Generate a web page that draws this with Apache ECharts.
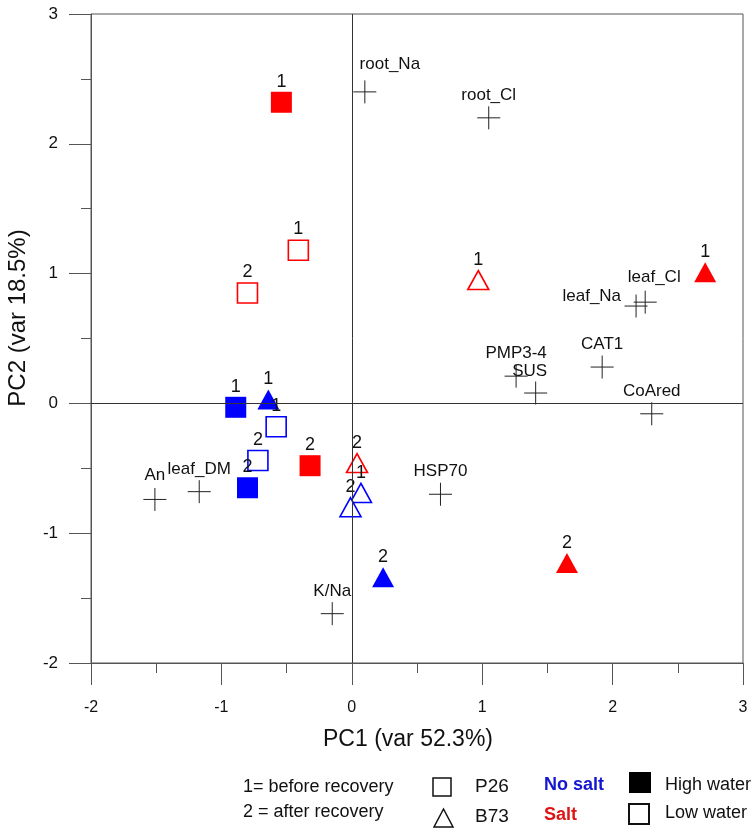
<!DOCTYPE html>
<html><head><meta charset="utf-8">
<script src="https://cdn.jsdelivr.net/npm/echarts@6/dist/echarts.min.js"></script>
<style>html,body{margin:0;padding:0;background:#fff}#c{width:756px;height:832px}</style>
</head><body><div id="c"></div>
<script>
// ---- data (index 0 = before recovery "1", index 1 = after recovery "2") ----
const timeLabels = ['1', '2'];
// P26 (squares)
const p26SaltHighX = [-0.54, -0.32], p26SaltHighY = [2.32, -0.48];
const p26SaltLowX = [-0.41, -0.80], p26SaltLowY = [1.18, 0.85];
const p26NoSaltHighX = [-0.89, -0.80], p26NoSaltHighY = [-0.03, -0.65];
const p26NoSaltLowX = [-0.58, -0.72], p26NoSaltLowY = [-0.18, -0.44];
// B73 (triangles)
const b73SaltHighX = [2.71, 1.65], b73SaltHighY = [1.01, -1.23];
const b73SaltLowX = [0.97, 0.04], b73SaltLowY = [0.95, -0.46];
const b73NoSaltHighX = [-0.64, 0.24], b73NoSaltHighY = [0.03, -1.34];
const b73NoSaltLowX = [0.07, -0.01], b73NoSaltLowY = [-0.69, -0.80];
// variable loadings
const varNames = ['root_Na', 'root_Cl', 'leaf_Na', 'leaf_Cl', 'CAT1', 'PMP3-4', 'SUS', 'CoAred', 'HSP70', 'K/Na', 'An', 'leaf_DM'];
const varX = [0.10, 1.05, 2.18, 2.25, 1.92, 1.26, 1.41, 2.30, 0.68, -0.15, -1.51, -1.17];
const varY = [2.40, 2.20, 0.75, 0.78, 0.28, 0.21, 0.08, -0.08, -0.70, -1.62, -0.74, -0.68];
// axis ticks
const xTicks = [-2, -1, 0, 1, 2, 3];
const yTicks = [-2, -1, 0, 1, 2, 3];
const xTitle = 'PC1 (var 52.3%)';
const yTitle = 'PC2 (var 18.5%)';

// ---- styling ----
const FONT = '"Liberation Sans", Arial, sans-serif';
const RED = '#ff0000', BLUE = '#0000ff';
const AX = '#555';
const varLabelStyle = {
  'root_Na': { offset: [25, -5] },
  'leaf_Na': { position: 'left', distance: 1, offset: [0, -10] },
  'leaf_Cl': { offset: [9, -2] },
  'SUS': { offset: [-6, 1] },
  'An': { offset: [0, -2] }
};

function pts(xs, ys) {
  return xs.map((x, i) => ({ name: timeLabels[i], value: [x, ys[i]] }));
}
const numLabel = { show: true, position: 'top', distance: 1, formatter: '{b}', fontSize: 18, color: '#111', fontFamily: FONT };

function grp(xs, ys, shape, color, filled) {
  const isRect = shape === 'rect';
  return {
    type: 'scatter', z: 3,
    symbol: shape,
    symbolSize: isRect ? (filled ? 21 : 20) : (filled ? [22, 20] : [21, 19]),
    itemStyle: filled ? { color: color, opacity: 1 } : { color: '#fff', borderColor: color, borderWidth: 1.6, opacity: 1 },
    label: numLabel,
    data: pts(xs, ys)
  };
}

const varData = varNames.map((n, i) => {
  const d = { name: n, value: [varX[i], varY[i]] };
  if (varLabelStyle[n]) d.label = varLabelStyle[n];
  return d;
});

const chart = echarts.init(document.getElementById('c'), null, { renderer: 'canvas' });
const axisCommon = {
  type: 'value', min: -2, max: 3, interval: 1,
  axisLine: { show: true, onZero: false, lineStyle: { color: AX, width: 1 } },
  axisTick: { show: true, length: 22, lineStyle: { color: AX, width: 1 } },
  minorTick: { show: true, splitNumber: 2, length: 10, lineStyle: { color: AX, width: 1 } },
  splitLine: { show: false }
};
chart.setOption({
  animation: false,
  backgroundColor: '#fff',
  grid: { left: 91, right: 13, top: 14, bottom: 169, show: true, borderColor: '#555', borderWidth: 1 },
  xAxis: Object.assign({}, axisCommon, {
    axisLabel: { margin: 37, fontSize: 16, color: '#111', fontFamily: FONT,
      formatter: v => xTicks.includes(v) ? String(v) : '' }
  }),
  yAxis: Object.assign({}, axisCommon, {
    axisLabel: { margin: 33, fontSize: 17, color: '#111', fontFamily: FONT,
      formatter: v => yTicks.includes(v) ? String(v) : '' }
  }),
  series: [
    { type: 'scatter', data: [], z: 1,
      markLine: { silent: true, symbol: 'none', animation: false, label: { show: false },
        lineStyle: { color: '#333', width: 1, type: 'solid', opacity: 1 },
        data: [{ xAxis: 0 }, { yAxis: 0 }] } },
    { type: 'scatter', z: 2,
      symbol: 'path://M0,10L20,10M10,0L10,20', symbolSize: 23,
      itemStyle: { color: 'none', borderColor: '#222', borderWidth: 1, opacity: 1 },
      label: { show: true, position: 'top', distance: 0, formatter: '{b}', fontSize: 17, color: '#111', fontFamily: FONT },
      data: varData },
    grp(p26SaltHighX, p26SaltHighY, 'rect', RED, true),
    grp(p26SaltLowX, p26SaltLowY, 'rect', RED, false),
    grp(p26NoSaltHighX, p26NoSaltHighY, 'rect', BLUE, true),
    grp(p26NoSaltLowX, p26NoSaltLowY, 'rect', BLUE, false),
    grp(b73SaltHighX, b73SaltHighY, 'triangle', RED, true),
    grp(b73SaltLowX, b73SaltLowY, 'triangle', RED, false),
    grp(b73NoSaltHighX, b73NoSaltHighY, 'triangle', BLUE, true),
    grp(b73NoSaltLowX, b73NoSaltLowY, 'triangle', BLUE, false)
  ],
  graphic: [
    { type: 'text', x: 408, y: 740, style: { text: xTitle, fontSize: 23, fontFamily: FONT, fill: '#111', align: 'center', verticalAlign: 'middle' } },
    { type: 'text', x: 18, y: 318, rotation: Math.PI / 2, style: { text: yTitle, fontSize: 24, fontFamily: FONT, fill: '#111', align: 'center', verticalAlign: 'middle' } },
    { type: 'text', x: 243, y: 787, style: { text: '1= before recovery', fontSize: 18, fontFamily: FONT, fill: '#111', align: 'left', verticalAlign: 'middle' } },
    { type: 'text', x: 243, y: 812, style: { text: '2 = after recovery', fontSize: 18, fontFamily: FONT, fill: '#111', align: 'left', verticalAlign: 'middle' } },
    { type: 'rect', shape: { x: 433, y: 778, width: 18, height: 18 }, style: { fill: '#fff', stroke: '#111', lineWidth: 1.5 } },
    { type: 'polygon', shape: { points: [[434, 827], [453, 827], [443.5, 809]] }, style: { fill: '#fff', stroke: '#111', lineWidth: 1.5 } },
    { type: 'text', x: 475, y: 787, style: { text: 'P26', fontSize: 19, fontFamily: FONT, fill: '#111', align: 'left', verticalAlign: 'middle' } },
    { type: 'text', x: 475, y: 817, style: { text: 'B73', fontSize: 19, fontFamily: FONT, fill: '#111', align: 'left', verticalAlign: 'middle' } },
    { type: 'text', x: 544, y: 785, style: { text: 'No salt', fontSize: 18, fontWeight: 'bold', fontFamily: FONT, fill: '#1414d2', align: 'left', verticalAlign: 'middle' } },
    { type: 'text', x: 544, y: 815, style: { text: 'Salt', fontSize: 18, fontWeight: 'bold', fontFamily: FONT, fill: '#e01414', align: 'left', verticalAlign: 'middle' } },
    { type: 'rect', shape: { x: 629, y: 772, width: 22, height: 21 }, style: { fill: '#000' } },
    { type: 'rect', shape: { x: 629, y: 804, width: 20, height: 20 }, style: { fill: '#fff', stroke: '#111', lineWidth: 2 } },
    { type: 'text', x: 665, y: 785, style: { text: 'High water', fontSize: 18, fontFamily: FONT, fill: '#111', align: 'left', verticalAlign: 'middle' } },
    { type: 'text', x: 665, y: 813, style: { text: 'Low water', fontSize: 18, fontFamily: FONT, fill: '#111', align: 'left', verticalAlign: 'middle' } }
  ]
});
</script>
</body></html>
